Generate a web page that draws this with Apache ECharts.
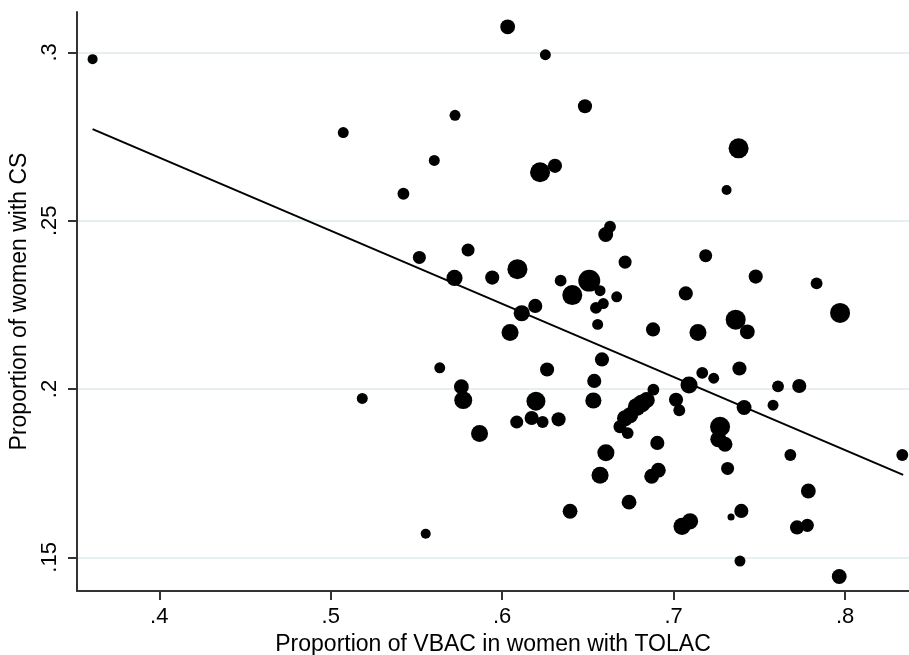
<!DOCTYPE html>
<html>
<head>
<meta charset="utf-8">
<title>VBAC vs CS</title>
<script src="https://cdn.jsdelivr.net/npm/echarts@6/dist/echarts.min.js"></script>
<style>
    html, body { margin: 0; padding: 0; background: #fff; }
    #container { width: 909px; height: 655px; }
</style>
</head>
<body>
<div id="container"></div>
<script>
// proportion of VBAC among women with TOLAC (x), proportion of women with CS (y), marker weight
var vbac = [0.3611, 0.5073, 0.5725, 0.5604, 0.5424, 0.5517, 0.5722, 0.6032, 0.6252, 0.6483,
    0.6221, 0.6308, 0.7379, 0.7309, 0.5801, 0.6629, 0.6604, 0.6717, 0.7187, 0.7479,
    0.7834, 0.7971, 0.5942, 0.6089, 0.6341, 0.6193, 0.6114, 0.6508, 0.6409, 0.6571,
    0.6668, 0.6547, 0.6590, 0.7071, 0.6557, 0.6046, 0.6880, 0.7142, 0.7362, 0.7430,
    0.6262, 0.5636, 0.5762, 0.5773, 0.5868, 0.6197, 0.6085, 0.6172, 0.6236, 0.6329,
    0.6582, 0.6537, 0.6532, 0.6605, 0.6571, 0.6882, 0.6843, 0.6814, 0.6785, 0.6746,
    0.6717, 0.6687, 0.6732, 0.7014, 0.7033, 0.7090, 0.7167, 0.7234, 0.6905, 0.7271,
    0.7261, 0.7300, 0.7384, 0.7411, 0.7609, 0.7733, 0.7580, 0.7681, 0.8334, 0.7315,
    0.7786, 0.7395, 0.7335, 0.7720, 0.7780, 0.7387, 0.7966, 0.6396, 0.6740, 0.6872,
    0.6911, 0.7049, 0.7096, 0.5184, 0.5554];
var cs = [0.2980, 0.2762, 0.2813, 0.2679, 0.2580, 0.2391, 0.2330, 0.3076, 0.2993, 0.2840,
    0.2644, 0.2663, 0.2715, 0.2591, 0.2413, 0.2482, 0.2459, 0.2377, 0.2396, 0.2334,
    0.2314, 0.2226, 0.2331, 0.2356, 0.2322, 0.2247, 0.2225, 0.2322, 0.2279, 0.2292,
    0.2274, 0.2241, 0.2254, 0.2284, 0.2192, 0.2168, 0.2177, 0.2168, 0.2206, 0.2170,
    0.2058, 0.2063, 0.2007, 0.1967, 0.1868, 0.1964, 0.1902, 0.1914, 0.1902, 0.1910,
    0.2088, 0.2024, 0.1966, 0.1811, 0.1744, 0.1998, 0.1967, 0.1957, 0.1947, 0.1922,
    0.1913, 0.1888, 0.1869, 0.1968, 0.1937, 0.2012, 0.2048, 0.2032, 0.1840, 0.1888,
    0.1851, 0.1836, 0.2061, 0.1945, 0.2008, 0.2009, 0.1952, 0.1804, 0.1804, 0.1764,
    0.1697, 0.1638, 0.1620, 0.1589, 0.1595, 0.1489, 0.1443, 0.1637, 0.1664, 0.1741,
    0.1759, 0.1592, 0.1607, 0.1972, 0.1570];
var weights = [10, 12, 12, 12, 14, 17, 26, 22, 12, 20,
    40, 20, 40, 10, 17, 14, 22, 17, 17, 20,
    14, 40, 20, 40, 14, 20, 26, 48, 40, 12,
    12, 14, 12, 20, 12, 29, 20, 29, 40, 22,
    20, 12, 22, 32, 29, 36, 17, 20, 14, 20,
    20, 20, 26, 29, 29, 14, 26, 32, 32, 26,
    26, 17, 14, 20, 14, 29, 14, 12, 20, 40,
    26, 22, 20, 22, 14, 20, 12, 14, 14, 17,
    22, 20, 5, 20, 17, 12, 22, 22, 22, 22,
    22, 29, 26, 12, 10];

// fitted line end points
var fitX = [0.3611, 0.8339];
var fitY = [0.2772, 0.1745];

var xTicks = [0.4, 0.5, 0.6, 0.7, 0.8];
var yTicks = [0.15, 0.2, 0.25, 0.3];

function stataLabel(v) {
    return String(v).replace(/^0\./, '.');
}

function createChart() {
    var dom = document.getElementById('container');
    var myChart = echarts.init(dom, null, {renderer: 'canvas'});
    var font = "'Liberation Sans', Arial, Helvetica, sans-serif";

    var points = [];
    for (var i = 0; i < vbac.length; i++) {
        points.push([vbac[i], cs[i], weights[i]]);
    }
    var fitData = [];
    for (var j = 0; j < fitX.length; j++) {
        fitData.push([fitX[j], fitY[j]]);
    }

    var option = {
        animation: false,
        backgroundColor: '#fff',
        grid: {
            left: 77,
            right: 0,
            top: 12,
            bottom: 64,
            outerBoundsMode: 'none'
        },
        xAxis: {
            type: 'value',
            min: 0.352,
            max: 0.8373,
            name: 'Proportion of VBAC in women with TOLAC',
            nameLocation: 'middle',
            nameGap: 40,
            nameTextStyle: {fontFamily: font, fontSize: 23, color: '#000'},
            axisLine: {show: true, onZero: false, lineStyle: {color: '#333', width: 2}},
            axisTick: {show: true, length: 9, customValues: xTicks, lineStyle: {color: '#333', width: 2}},
            axisLabel: {
                customValues: xTicks,
                margin: 15,
                fontFamily: font,
                fontSize: 22,
                color: '#000',
                formatter: stataLabel
            },
            splitLine: {show: false}
        },
        yAxis: {
            type: 'value',
            min: 0.14,
            max: 0.312,
            name: 'Proportion of women with CS',
            nameLocation: 'middle',
            nameGap: 42,
            nameRotate: 90,
            nameTextStyle: {fontFamily: font, fontSize: 23, color: '#000'},
            axisLine: {show: true, onZero: false, lineStyle: {color: '#333', width: 2}},
            axisTick: {show: true, length: 9, customValues: yTicks, lineStyle: {color: '#333', width: 2}},
            axisLabel: {
                customValues: yTicks,
                rotate: 90,
                margin: 16,
                fontFamily: font,
                fontSize: 22,
                color: '#000',
                formatter: stataLabel
            },
            splitLine: {show: true, lineStyle: {color: '#e6eff1', width: 2}}
        },
        series: [
            {
                name: 'hospitals',
                type: 'scatter',
                data: points,
                symbol: 'circle',
                symbolSize: function (v) {
                    return Math.sqrt(v[2] * 10);
                },
                itemStyle: {color: '#000', opacity: 1},
                silent: true,
                z: 2
            },
            {
                name: 'fit',
                type: 'line',
                data: fitData,
                showSymbol: false,
                symbol: 'none',
                lineStyle: {color: '#000', width: 2},
                silent: true,
                z: 3
            }
        ]
    };
    myChart.setOption(option, true);
}

createChart();
</script>
</body>
</html>
